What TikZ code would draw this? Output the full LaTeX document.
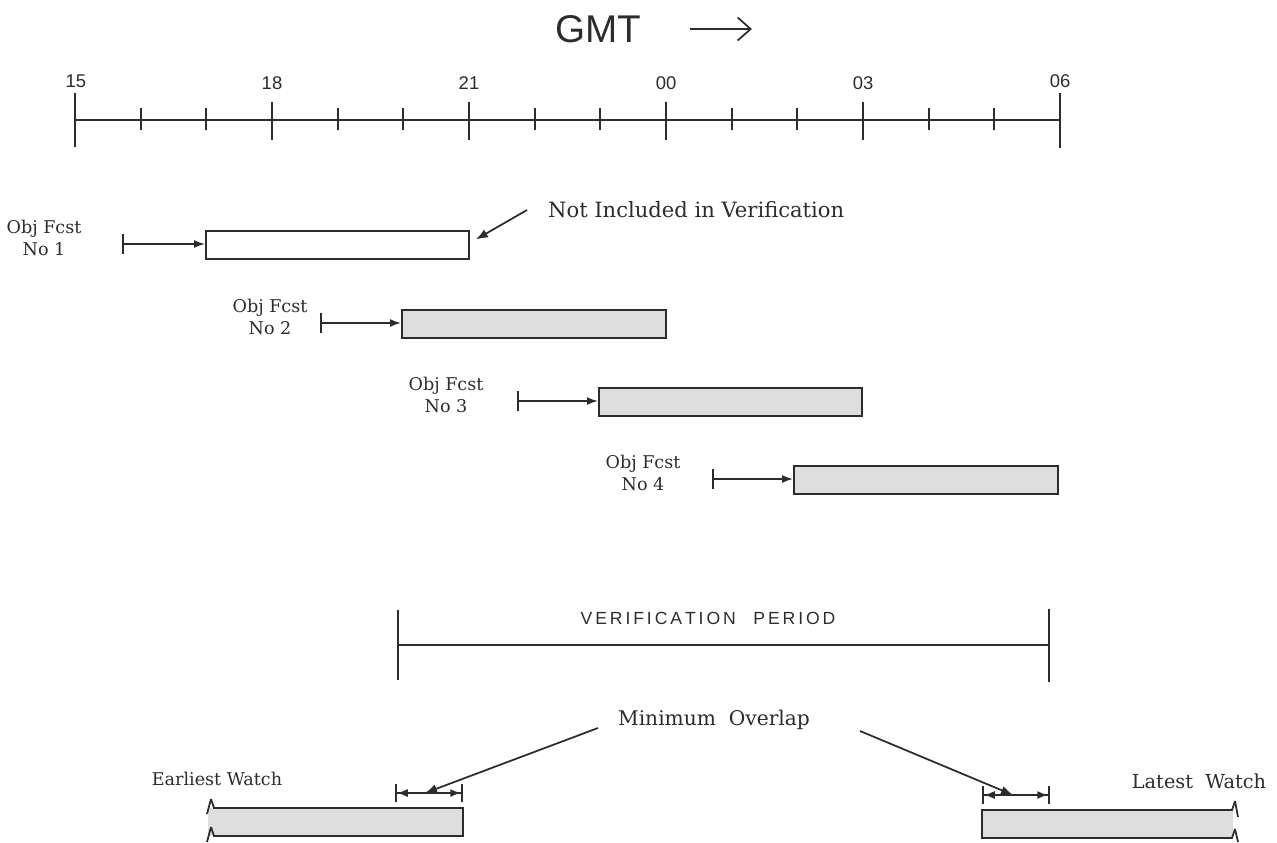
\documentclass[tikz,border=0pt]{standalone}
\usepackage{fontspec}
\setmainfont{DejaVu Serif}
\setsansfont{Liberation Sans}
\usetikzlibrary{arrows.meta}
\definecolor{ink}{HTML}{2C2C2C}
\definecolor{stipple}{HTML}{DEDEDE}

\tikzset{
  rule/.style={ink,line width=1pt},
  fcstbox/.style={draw=ink,line width=1.1pt,minimum height=0.56cm,inner sep=0pt,anchor=north west},
  lead/.style={rule,{Bar[width=4mm]}-{Latex[length=2.2mm,width=1.6mm]}},
  overlap/.style={rule,{Bar[width=3.6mm] Latex[length=2.2mm,width=1.6mm]}-{Latex[length=2.2mm,width=1.6mm] Bar[width=3.6mm]}},
  pointer/.style={rule,-{Latex[length=2.4mm,width=1.8mm]}},
  lbl/.style={ink,font=\fontsize{10}{12.5}\selectfont,align=center,inner sep=1pt},
  hour/.style={ink,font=\sffamily\fontsize{10.5}{12}\selectfont},
}

\begin{document}
\begin{tikzpicture}[x=0.02cm,y=-0.02cm]
  \useasboundingbox (0,0) rectangle (1277,842);
  % title
  \node[ink,font=\sffamily\fontsize{22}{26}\selectfont] (gmt) at (598,29) {GMT};
  \coordinate (gmtend) at (752,29);
  \draw[rule,-{Straight Barb[length=2.6mm,width=4.6mm]}] ([xshift=8.6mm]gmt.east) -- (gmtend);
  % time axis, one tick per hour
  \draw[rule] (75,120) -- (1060,120);
  \foreach \h in {1,2,4,5,7,8,10,11,13,14}
    \draw[rule] ({75+65.667*\h},108) -- ({75+65.667*\h},130);
  \foreach \h/\t in {3/18,6/21,9/00,12/03}{
    \draw[rule] ({75+65.667*\h},102) -- ({75+65.667*\h},140);
    \node[hour] (h\t) at ({75+65.667*\h},83) {\t};
  }
  \draw[rule] (75,93) -- (75,147);
  \draw[rule] (1060,93) -- (1060,148);
  \node[hour] (h15) at (76,81) {15};
  \node[hour] (h06) at (1060,81) {06};
  % objective forecasts
  \node[fcstbox,minimum width=5.26cm] (f1) at (205,230) {};
  \node[fcstbox,minimum width=5.28cm,fill=stipple] (f2) at (401,309) {};
  \node[fcstbox,minimum width=5.26cm,fill=stipple] (f3) at (598,387) {};
  \node[fcstbox,minimum width=5.28cm,fill=stipple] (f4) at (793,465) {};
  \coordinate (s1) at (122,244);
  \coordinate (s2) at (320,323);
  \coordinate (s3) at (517,401);
  \coordinate (s4) at (712,479);
  \draw[lead] (s1) -- (s1 -| f1.west);
  \draw[lead] (s2) -- (s2 -| f2.west);
  \draw[lead] (s3) -- (s3 -| f3.west);
  \draw[lead] (s4) -- (s4 -| f4.west);
  \node[lbl] (o1) at (44,238) {Obj Fcst\\No 1};
  \node[lbl] (o2) at (270,317) {Obj Fcst\\No 2};
  \node[lbl] (o3) at (446,395) {Obj Fcst\\No 3};
  \node[lbl] (o4) at (643,473) {Obj Fcst\\No 4};
  \node[lbl,anchor=west,font=\fontsize{12}{14}\selectfont] (ni) at (546,210) {Not Included in Verification};
  \coordinate (nifrom) at (527,210);
  \draw[pointer] (nifrom) -- ([xshift=1.2mm,yshift=1.1mm]f1.east);
  % verification period
  \coordinate (v1) at (397,645);
  \coordinate (v2) at (1050,645);
  \draw[rule,{Bar[width=14mm]}-{Bar[width=14.6mm]}] (v1) -- (v2);
  \node[ink,font=\sffamily\fontsize{10}{12}\selectfont] (vp) at (708,618) {V\,E\,R\,I\,F\,I\,C\,A\,T\,I\,O\,N\quad P\,E\,R\,I\,O\,D};
  % watches and minimum overlap
  \node[lbl,font=\fontsize{11.5}{14}\selectfont] (mo) at (714,720) {Minimum\ \ Overlap};
  \node[lbl] (ew) at (217,779) {Earliest Watch};
  \node[lbl,font=\fontsize{11}{14}\selectfont] (lw) at (1199,781) {Latest\ \ Watch};
  \fill[stipple] (208,808) rectangle (463,836);
  \draw[rule] (211,799) -- (214,808) -- (463,808) -- (463,836) -- (214,836) -- (211,827);
  \draw[rule] (211,799) -- (207,814);
  \draw[rule] (211,827) -- (207,842);
  \fill[stipple] (982,810) rectangle (1233,838);
  \draw[rule] (1235,801) -- (1232,810) -- (982,810) -- (982,838) -- (1232,838) -- (1235,829);
  \draw[rule] (1235,801) -- (1238,817);
  \draw[rule] (1235,829) -- (1238,842);
  \coordinate (ea) at (395,793);
  \coordinate (eb) at (463,793);
  \coordinate (la) at (982,795);
  \coordinate (lb) at (1050,795);
  \draw[overlap] (ea) -- (eb);
  \draw[overlap] (la) -- (lb);
  \coordinate (em) at (425,793);
  \coordinate (lm) at (1013,795);
  \coordinate (mofrom1) at (598,728);
  \coordinate (mofrom2) at (860,731);
  \draw[pointer] (mofrom1) -- (em);
  \draw[pointer] (mofrom2) -- (lm);
\end{tikzpicture}
\end{document}
